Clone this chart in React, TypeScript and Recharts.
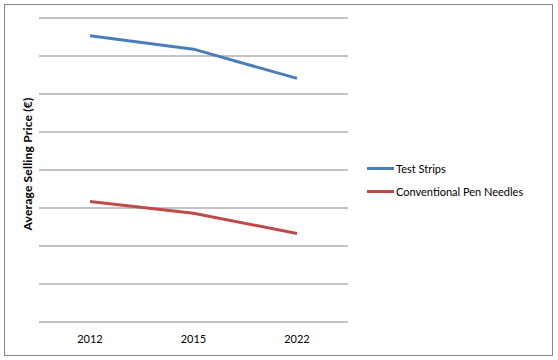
import { CartesianGrid, Legend, Line, LineChart, XAxis, YAxis } from "recharts";

const years = ["2012", "2015", "2022"];
const testStrips = [7.53, 7.18, 6.41];
const penNeedles = [3.17, 2.86, 2.33];
const yTicks = [0, 1, 2, 3, 4, 5, 6, 7, 8];

const rows = years.map((y, i) => ({ year: y, strips: testStrips[i], needles: penNeedles[i] }));

const FONT = "Lato, 'Liberation Sans', sans-serif";
const series = [
  { key: "strips", name: "Test Strips", color: "#4a7ebb" },
  { key: "needles", name: "Conventional Pen Needles", color: "#be4b48" },
];

function LegendBox() {
  return (
    <div style={{ fontFamily: FONT, fontSize: 11, color: "#000" }}>
      {series.map((s) => (
        <div key={s.key} style={{ display: "flex", alignItems: "center", height: 23 }}>
          <span style={{ display: "inline-block", width: 27, height: 3, background: s.color, marginRight: 2 }} />
          <span>{s.name}</span>
        </div>
      ))}
    </div>
  );
}

export default function App() {
  return (
    <div style={{ position: "absolute", left: 0, top: 0, width: 558, height: 360, background: "#fff" }}>
      <div style={{ position: "absolute", left: 4, top: 4, width: 547, height: 350, border: "1px solid #868686" }} />
      <div style={{ position: "absolute", left: 0, top: 0 }}>
        <LineChart width={558} height={360} data={rows} margin={{ top: 18, right: 210, bottom: 8, left: 0 }}>
          <CartesianGrid horizontal vertical={false} stroke="#868686" strokeWidth={1} />
          <XAxis dataKey="year" tickLine={false} axisLine={false} height={30} padding={{ left: 51, right: 51 }}
                 tick={{ fontSize: 11, fontFamily: FONT, fill: "#000" }} tickMargin={7} />
          <YAxis width={39} domain={[0, 8]} ticks={yTicks} tick={() => <g />} tickLine={false} axisLine={false}
                 label={{ value: "Average Selling Price (€)", angle: -90, position: "center", dx: 8, dy: -6,
                          style: { fontSize: 12, letterSpacing: 0.2, fontWeight: "bold", fontFamily: FONT, fill: "#000" } }} />
          <Legend layout="vertical" align="center" verticalAlign="middle" content={<LegendBox />}
                  wrapperStyle={{ left: 367, top: 157, width: 185 }} />
          {series.map((s) => (
            <Line key={s.key} type="linear" dataKey={s.key} name={s.name} stroke={s.color}
                  strokeWidth={3} dot={false} isAnimationActive={false} />
          ))}
        </LineChart>
      </div>
    </div>
  );
}
